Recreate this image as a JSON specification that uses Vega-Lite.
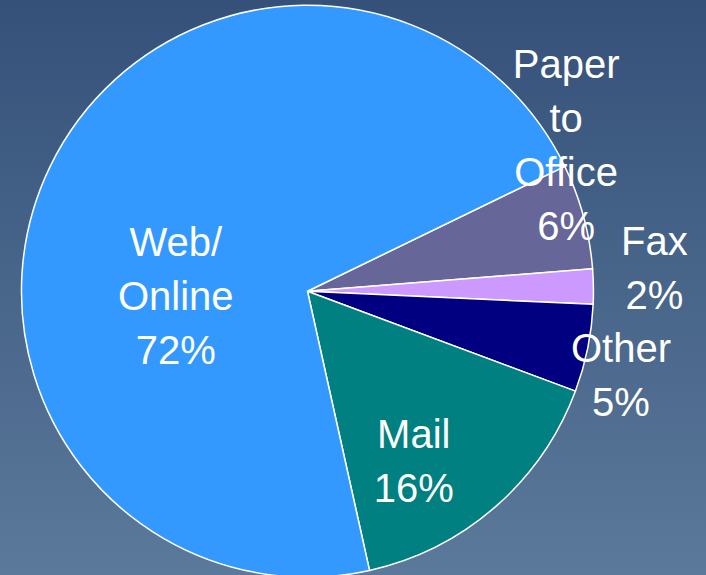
{
  "$schema": "https://vega.github.io/schema/vega-lite/v6.json",
  "width": 706,
  "height": 575,
  "autosize": {"type": "none"},
  "padding": 0,
  "view": {
    "stroke": null,
    "fill": {
      "gradient": "linear",
      "x1": 0, "y1": 0, "x2": 0, "y2": 1,
      "stops": [
        {"offset": 0, "color": "#35517a"},
        {"offset": 1, "color": "#5b799a"}
      ]
    }
  },
  "config": {
    "text": {"font": "Liberation Sans", "fontSize": 40, "fill": "white", "lineBreak": "\n", "lineHeight": 54, "align": "center", "baseline": "middle"}
  },
  "data": {
    "values": [
      {"channel": "Paper to Office", "value": 6, "order": 1, "label": "Paper\nto\nOffice\n6%"},
      {"channel": "Fax", "value": 2, "order": 2, "label": "Fax\n2%"},
      {"channel": "Other", "value": 5, "order": 3, "label": "Other\n5%"},
      {"channel": "Mail", "value": 16, "order": 4, "label": "Mail\n16%"},
      {"channel": "Web/Online", "value": 72, "order": 5, "label": "Web/\nOnline\n72%"}
    ]
  },
  "encoding": {
    "theta": {"field": "value", "type": "quantitative", "stack": true, "scale": {"range": [1.1188, 7.402]}},
    "order": {"field": "order", "type": "quantitative"}
  },
  "layer": [
    {
      "mark": {"type": "arc", "outerRadius": 286, "stroke": "white", "strokeWidth": 1.5, "x": {"expr": "width * 0.4355"}, "y": {"expr": "height * 0.5065"}},
      "encoding": {
        "color": {
          "field": "channel", "type": "nominal", "legend": null,
          "scale": {
            "domain": ["Paper to Office", "Fax", "Other", "Mail", "Web/Online"],
            "range": ["#666699", "#cc99ff", "#000080", "#008080", "#3399ff"]
          }
        }
      }
    },
    {
      "mark": {"type": "text", "radius": 133, "dx": -12, "dy": 11, "x": {"expr": "width * 0.4355"}, "y": {"expr": "height * 0.5065"}},
      "encoding": {"text": {"condition": {"test": "datum.channel === 'Web/Online'", "field": "label"}, "value": ""}}
    },
    {
      "mark": {"type": "text", "radius": 200, "dx": -25, "dy": -6, "x": {"expr": "width * 0.4355"}, "y": {"expr": "height * 0.5065"}},
      "encoding": {"text": {"condition": {"test": "datum.channel === 'Mail'", "field": "label"}, "value": ""}}
    },
    {
      "mark": {"type": "text", "radius": 322, "dx": -2, "dy": -6, "x": {"expr": "width * 0.4355"}, "y": {"expr": "height * 0.5065"}},
      "encoding": {"text": {"condition": {"test": "datum.channel === 'Other'", "field": "label"}, "value": ""}}
    },
    {
      "mark": {"type": "text", "radius": 346, "dx": 1, "dy": -43, "x": {"expr": "width * 0.4355"}, "y": {"expr": "height * 0.5065"}},
      "encoding": {"text": {"condition": {"test": "datum.channel === 'Fax'", "field": "label"}, "value": ""}}
    },
    {
      "mark": {"type": "text", "radius": 296, "dx": -27, "dy": -148, "x": {"expr": "width * 0.4355"}, "y": {"expr": "height * 0.5065"}},
      "encoding": {"text": {"condition": {"test": "datum.channel === 'Paper to Office'", "field": "label"}, "value": ""}}
    }
  ]
}
